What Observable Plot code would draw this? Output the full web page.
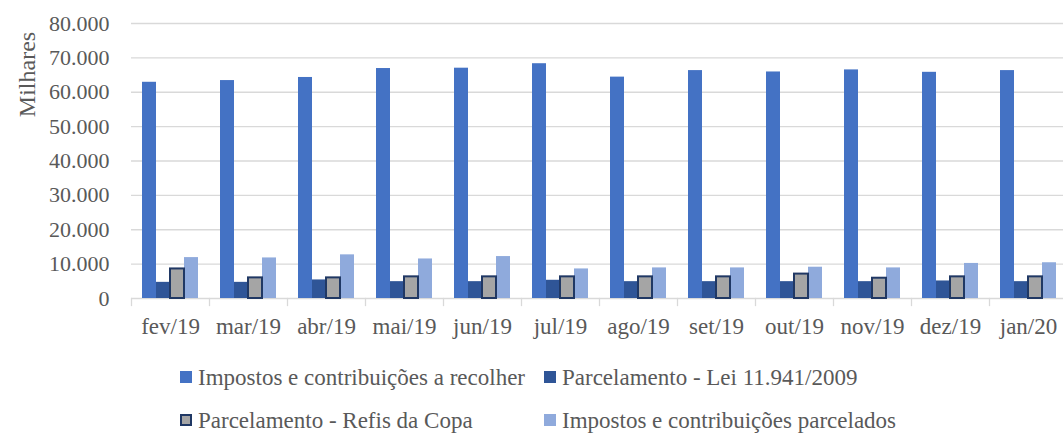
<!DOCTYPE html>
<html><head><meta charset="utf-8">
<script src="https://cdn.jsdelivr.net/npm/d3@7"></script>
<script src="https://cdn.jsdelivr.net/npm/@observablehq/plot@0.6"></script>
<style>
html,body{margin:0;padding:0;overflow:hidden;background:#fff;}
body{width:1063px;height:433px;position:relative;font-family:"Liberation Serif","Times New Roman","DejaVu Serif",serif;color:#595959;}
#chart{position:absolute;left:0;top:0;width:1071px;}
.item{position:absolute;font-size:23px;line-height:26px;white-space:nowrap;}
.sw{display:inline-block;width:12px;height:12px;margin-right:6px;vertical-align:2px;box-sizing:border-box;}
</style></head><body><div id="chart"></div><div id="legend"></div><script>
const months = ["fev/19","mar/19","abr/19","mai/19","jun/19","jul/19","ago/19","set/19","out/19","nov/19","dez/19","jan/20"];
const series = ["Impostos e contribuições a recolher","Parcelamento - Lei 11.941/2009","Parcelamento - Refis da Copa","Impostos e contribuições parcelados"];
const impostos   = [62900, 63400, 64300, 66900, 67000, 68300, 64400, 66300, 65900, 66500, 65800, 66300];
const lei        = [4700, 4700, 5400, 4900, 4900, 5300, 4900, 4900, 4900, 4900, 5100, 4900];
const refis      = [8600, 6000, 6000, 6300, 6300, 6300, 6300, 6300, 7100, 5900, 6300, 6300];
const parcelados = [11900, 11800, 12700, 11500, 12200, 8600, 8900, 8900, 9100, 8900, 10200, 10400];
const yTicks = [0, 10000, 20000, 30000, 40000, 50000, 60000, 70000, 80000];
const colors = ["#4472c4", "#2f5597", "#a5a5a5", "#8faadc"];
const refisStroke = "#203864";
const FONT = '"Liberation Serif", "Times New Roman", "DejaVu Serif", serif';

const values = [impostos, lei, refis, parcelados];
const data = months.flatMap((m, i) => series.map((s, j) => ({month: m, series: s, value: values[j][i]})));
const fmt = d3.formatLocale({decimal: ",", thousands: ".", grouping: [3], currency: ["", ""]}).format(",");

const chart = Plot.plot({
  width: 1071, height: 340,
  marginLeft: 126, marginRight: 0, marginTop: 23, marginBottom: 35,
  style: {fontFamily: FONT, fontSize: "22px", color: "#595959", background: "white", overflow: "visible", maxWidth: "none"},
  fx: {domain: months, padding: 0, label: null, axis: null},
  x: {domain: series, paddingInner: 0, paddingOuter: 0.77, axis: null},
  y: {domain: [0, 80000], insetBottom: 7, axis: null},
  color: {domain: series, range: colors},
  marks: [
    Plot.gridY(yTicks, {stroke: "#d9d9d9", strokeOpacity: 1, strokeWidth: 1.3}),
    Plot.frame({anchor: "left", stroke: "#d9d9d9", strokeOpacity: 1, strokeWidth: 1.3, insetTop: 275}),
    Plot.axisY(yTicks, {tickSize: 0, tickPadding: 22, tickFormat: fmt, fontSize: 22, fill: "#595959", label: null}),
    Plot.axisFx({anchor: "bottom", tickSize: 0, tickPadding: 12, fontSize: 23, fill: "#595959", label: null}),
    Plot.barY(data.filter(d => d.series !== series[2]), {fx: "month", x: "series", y: "value", fill: "series"}),
    Plot.barY(data.filter(d => d.series === series[2]), {fx: "month", x: "series", y: "value", fill: colors[2], stroke: refisStroke, strokeWidth: 2}),
    Plot.text(["Milhares"], {facet: "super", frameAnchor: "top-left", textAnchor: "middle", lineAnchor: "middle", rotate: -90, dx: -104, dy: 51, fontSize: 24, fill: "#595959"})
  ]
});
document.getElementById("chart").append(chart);

const legend = document.getElementById("legend");
const pos = [[180, 365], [544, 365], [180, 408], [544, 408]];
series.forEach((s, i) => {
  const it = document.createElement("div");
  it.className = "item";
  it.style.left = pos[i][0] + "px";
  it.style.top = pos[i][1] + "px";
  const sw = document.createElement("span");
  sw.className = "sw";
  sw.style.background = colors[i];
  if (i === 2) sw.style.border = "2px solid " + refisStroke;
  it.append(sw, document.createTextNode(s));
  legend.append(it);
});
</script></body></html>
